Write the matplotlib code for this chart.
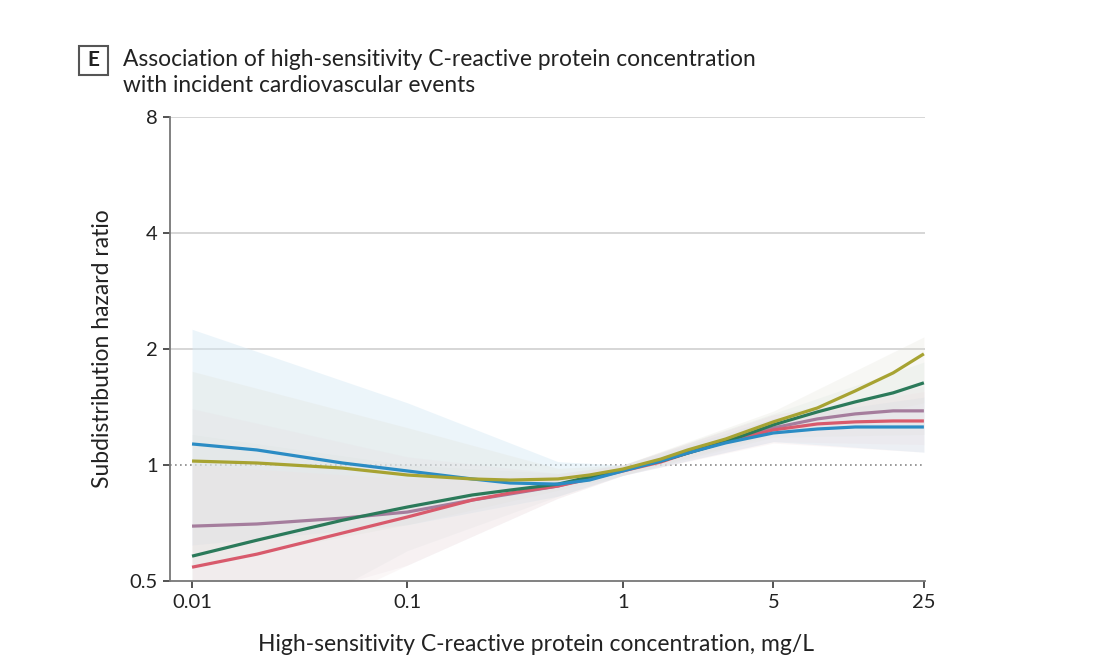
import matplotlib
matplotlib.use("Agg")
import matplotlib.pyplot as plt
from matplotlib.patches import FancyBboxPatch
import numpy as np

plt.rcParams['font.family'] = ['Lato', 'DejaVu Sans']

# ---- data ----
crp = [0.01, 0.02, 0.05, 0.1, 0.2, 0.3, 0.5, 0.7, 1, 1.5, 2, 3, 5, 8, 12, 18, 25]
blue = [1.134, 1.094, 1.012, 0.965, 0.920, 0.898, 0.892, 0.914, 0.965, 1.024, 1.074, 1.141, 1.211, 1.240, 1.255, 1.255, 1.255]
olive = [1.024, 1.012, 0.982, 0.942, 0.920, 0.914, 0.920, 0.942, 0.976, 1.036, 1.094, 1.168, 1.294, 1.406, 1.557, 1.734, 1.943]
green = [0.580, 0.638, 0.719, 0.778, 0.836, 0.861, 0.892, 0.931, 0.971, 1.024, 1.074, 1.148, 1.271, 1.373, 1.458, 1.539, 1.634]
purple = [0.694, 0.703, 0.728, 0.755, 0.811, 0.841, 0.882, 0.925, 0.971, 1.030, 1.081, 1.155, 1.248, 1.317, 1.357, 1.382, 1.382]
red = [0.543, 0.587, 0.666, 0.733, 0.811, 0.846, 0.882, 0.920, 0.965, 1.018, 1.074, 1.148, 1.233, 1.278, 1.294, 1.301, 1.301]

band_x = [0.01, 0.1, 0.5, 1, 5, 25]
blue_lo = [0.62, 0.70, 0.83, 0.94, 1.15, 1.08]
blue_hi = [2.25, 1.45, 1.02, 1.00, 1.32, 1.50]
olive_lo = [0.55, 0.70, 0.86, 0.94, 1.20, 1.45]
olive_hi = [1.75, 1.25, 0.98, 1.00, 1.38, 2.15]
green_lo = [0.30, 0.60, 0.83, 0.94, 1.18, 1.20]
green_hi = [1.20, 1.00, 0.95, 1.00, 1.36, 1.85]
purple_lo = [0.38, 0.55, 0.82, 0.94, 1.15, 1.13]
purple_hi = [1.40, 1.05, 0.95, 1.00, 1.35, 1.60]
red_lo = [0.30, 0.55, 0.82, 0.94, 1.14, 1.08]
red_hi = [1.00, 0.92, 0.94, 1.00, 1.35, 1.55]

xticks = [0.01, 0.1, 1, 5, 25]
xticklabels = ['0.01', '0.1', '1', '5', '25']
yticks = [0.5, 1, 2, 4, 8]
yticklabels = ['0.5', '1', '2', '4', '8']

colors = {
    'blue': '#2b8cc4',
    'olive': '#a7a332',
    'green': '#2b7a5a',
    'purple': '#a57d9d',
    'red': '#d85a6c',
}

# ---- figure ----
fig = plt.figure(figsize=(11, 6.71), dpi=100)
ax = fig.add_axes([170/1100, 1 - 581/671, (925-170)/1100, (581-117)/671])
ax.set_xscale('log')
ax.set_yscale('log', base=2)
ax.set_xlim(0.0079, 25.3)
ax.set_ylim(0.5, 8)

# grid lines
for yv in [2, 4, 8]:
    ax.axhline(yv, color='#d6d6d6', lw=1.4, zorder=1)
ax.axhline(1, color='#888888', lw=1.2, ls=(0, (1, 2)), zorder=2)

bands = [
    (blue_lo, blue_hi, '#d6eaf6', 0.45),
    (olive_lo, olive_hi, '#dedcd0', 0.22),
    (green_lo, green_hi, '#d6e2da', 0.22),
    (purple_lo, purple_hi, '#e4dce2', 0.22),
    (red_lo, red_hi, '#f0dcdf', 0.22),
]
for lo, hi, c, a in bands:
    ax.fill_between(band_x, lo, hi, color=c, alpha=a, lw=0, zorder=2)

for ys, c in [(purple, colors['purple']), (red, colors['red']), (green, colors['green']),
              (blue, colors['blue']), (olive, colors['olive'])]:
    ax.plot(crp, ys, color=c, lw=2.3, zorder=4, solid_capstyle='butt', solid_joinstyle='round')

ax.set_xticks(xticks)
ax.set_xticklabels(xticklabels)
ax.xaxis.set_minor_locator(matplotlib.ticker.NullLocator())
ax.set_yticks(yticks)
ax.set_yticklabels(yticklabels)
ax.yaxis.set_minor_locator(matplotlib.ticker.NullLocator())

for s in ['top', 'right']:
    ax.spines[s].set_visible(False)
for s in ['left', 'bottom']:
    ax.spines[s].set_color('#777777')
    ax.spines[s].set_linewidth(1.3)
ax.tick_params(axis='both', direction='out', length=5, width=1.3, color='#444444',
               labelsize=14.5, labelcolor='#222222', pad=4)

ax.set_ylabel('Subdistribution hazard ratio', fontsize=16.5, color='#222222', labelpad=12)
ax.set_xlabel('High-sensitivity C-reactive protein concentration, mg/L', fontsize=16.5,
              color='#222222', labelpad=17)
ax.xaxis.set_label_coords((536.5 - 170) / 755, -0.115)

# panel letter box
box = FancyBboxPatch((79/1100, 1 - 75/671), 29/1100, 29/671, boxstyle='square,pad=0',
                     transform=fig.transFigure, fill=False, edgecolor='#555555', lw=1.5)
fig.add_artist(box)
fig.text(93.5/1100, 1 - 60/671, 'E', ha='center', va='center', fontsize=15,
         fontweight='bold', color='#222222')
fig.text(123/1100, 1 - 59/671, 'Association of high-sensitivity C-reactive protein concentration',
         ha='left', va='center', fontsize=16.4, color='#222222')
fig.text(123/1100, 1 - 86/671, 'with incident cardiovascular events',
         ha='left', va='center', fontsize=16.4, color='#222222')

fig.savefig('out.png', dpi=100)
